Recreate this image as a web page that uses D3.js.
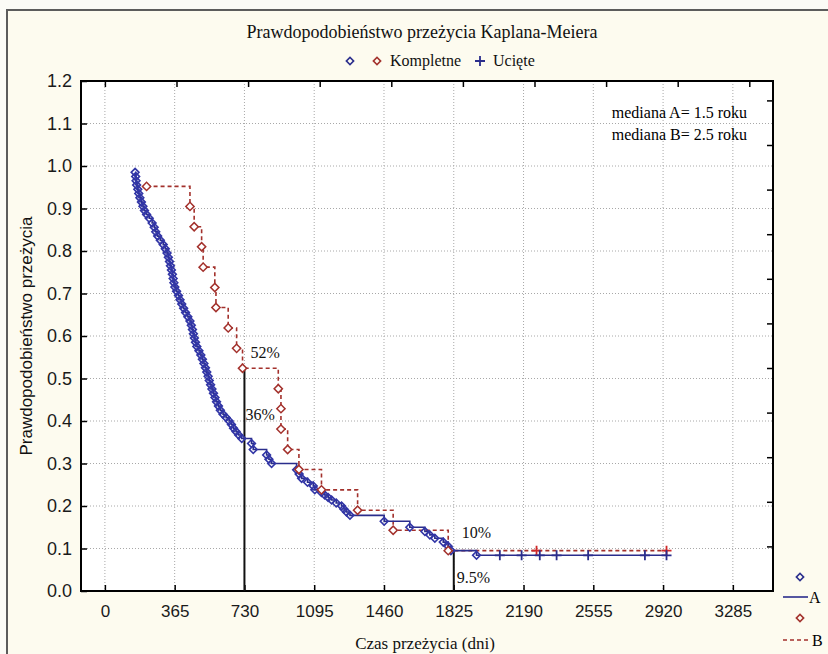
<!DOCTYPE html>
<html>
<head>
<meta charset="utf-8">
<script src="https://cdn.jsdelivr.net/npm/d3@7"></script>
<style>
  body { margin: 0; background: #fbfbf6; }
  svg { display: block; }
</style>
</head>
<body>
<div id="chart"></div>
<script>
// data
const xTicks = [0, 365, 730, 1095, 1460, 1825, 2190, 2555, 2920, 3285];
const yTicks = [0, 0.1, 0.2, 0.3, 0.4, 0.5, 0.6, 0.7, 0.8, 0.9, 1.0, 1.1, 1.2];

// curve A: complete observations (time in days, survival)
const timeA = [158, 161, 163, 166, 172, 177, 183, 191, 199, 207, 218, 232, 247, 258, 266, 276, 290, 305, 316, 325,
  332, 338, 343, 348, 353, 357, 361, 366, 375, 385, 393, 402, 412, 422, 434, 445, 452, 458, 463, 468,
  474, 481, 492, 502, 510, 518, 526, 533, 540, 546, 553, 560, 568, 576, 584, 594, 604, 618, 634, 650,
  662, 673, 686, 700, 716, 767, 776, 846, 858, 872, 1003, 1016, 1029, 1060, 1090, 1098, 1133, 1150, 1168, 1186,
  1210, 1238, 1250, 1264, 1282, 1461, 1595, 1674, 1700, 1726, 1770, 1796, 1810, 1944];
const survA = [0.985, 0.975, 0.965, 0.955, 0.945, 0.935, 0.925, 0.915, 0.905, 0.895, 0.886, 0.877, 0.866, 0.856, 0.845, 0.835, 0.825, 0.815, 0.805, 0.795,
  0.785, 0.775, 0.765, 0.755, 0.745, 0.735, 0.725, 0.715, 0.705, 0.695, 0.685, 0.675, 0.665, 0.655, 0.645, 0.635, 0.625, 0.615, 0.605, 0.595,
  0.585, 0.575, 0.565, 0.555, 0.545, 0.535, 0.525, 0.515, 0.505, 0.495, 0.485, 0.475, 0.465, 0.455, 0.445, 0.435, 0.425, 0.416, 0.408, 0.400,
  0.392, 0.383, 0.375, 0.367, 0.359, 0.347, 0.333, 0.320, 0.310, 0.300, 0.285, 0.275, 0.265, 0.256, 0.247, 0.238, 0.232, 0.226, 0.220, 0.214,
  0.207, 0.200, 0.193, 0.186, 0.178, 0.164, 0.150, 0.140, 0.132, 0.124, 0.115, 0.105, 0.095, 0.084];
// curve A: censored (ucięte)
const censA = [2066, 2180, 2275, 2363, 2528, 2825, 2938];

// curve B
const timeB = [218, 445, 467, 506, 514, 575, 581, 645, 689, 720, 907, 921, 921, 956, 1015, 1133, 1322, 1508, 1796];
const survB = [0.952, 0.905, 0.857, 0.810, 0.762, 0.714, 0.667, 0.619, 0.571, 0.524, 0.476, 0.429, 0.381, 0.333, 0.286, 0.238, 0.190, 0.143, 0.095];
const censB = [2258, 2938];

// median markers and their labels
const medianTimes = [730, 1825];
const medianSurv = [0.524, 0.095];
const pctLabels = ["52%", "36%", "10%", "9.5%"];
const pctTimes = [730, 730, 1825, 1825];
const pctSurv = [0.524, 0.36, 0.095, 0];

const W = 828, H = 654;
const box = { left: 81, right: 773, top: 81, bottom: 591 };

const svg = d3.select("#chart").append("svg")
  .attr("width", W).attr("height", H);

// outer frame (cut by the picture on the right and at the bottom)
svg.append("rect").attr("x", 0).attr("y", 0).attr("width", W).attr("height", H).attr("fill", "#fbfbf6");
svg.append("rect").attr("x", 7).attr("y", 10).attr("width", W + 20).attr("height", H + 20)
  .attr("fill", "#fdfbef").attr("stroke", "#5c5c5c").attr("stroke-width", 2);

const x = d3.scaleLinear().domain([-125, 3495]).range([box.left, box.right]);
const y = d3.scaleLinear().domain([0, 1.2]).range([box.bottom, box.top]);

// plot area
svg.append("rect")
  .attr("x", box.left).attr("y", box.top)
  .attr("width", box.right - box.left).attr("height", box.bottom - box.top)
  .attr("fill", "#fff");

// dotted grid
svg.append("g").selectAll("line").data(xTicks).enter().append("line")
  .attr("x1", d => x(d)).attr("x2", d => x(d))
  .attr("y1", box.top).attr("y2", box.bottom)
  .attr("stroke", "#a8a8a8").attr("stroke-dasharray", "1,2");
svg.append("g").selectAll("line").data(yTicks.slice(1, -1)).enter().append("line")
  .attr("x1", box.left).attr("x2", box.right)
  .attr("y1", d => y(d)).attr("y2", d => y(d))
  .attr("stroke", "#a8a8a8").attr("stroke-dasharray", "1,2");

// axes
const xAxis = svg.append("g")
  .attr("transform", `translate(0,${box.bottom})`)
  .call(d3.axisBottom(x).tickValues(xTicks).tickFormat(d3.format("d")).tickSizeInner(-6).tickSizeOuter(0).tickPadding(14));
const yAxis = svg.append("g")
  .attr("transform", `translate(${box.left},0)`)
  .call(d3.axisLeft(y).tickValues(yTicks).tickFormat(d3.format(".1f")).tickSizeInner(-6).tickSizeOuter(0).tickPadding(9));
[xAxis, yAxis].forEach(g => {
  g.select(".domain").remove();
  g.selectAll(".tick line").attr("stroke", "#000").attr("stroke-width", 1.5);
  g.selectAll("text").attr("fill", "#1a1a1a").style("font-family", "Arial, 'Liberation Sans', sans-serif");
});
xAxis.selectAll("text").style("font-size", "17px");
yAxis.selectAll("text").style("font-size", "18px");

// top and right ticks (Statistica draws them on its own spacing)
const xTop = d3.scaleLinear().domain([0, 365]).range([x(0), x(0) + 71.6]);
const yRight = d3.scaleLinear().domain([0, 1]).range([box.bottom, box.bottom - 44.6]);
svg.append("g").attr("transform", `translate(0,${box.top})`)
  .call(d3.axisTop(xTop).tickValues(xTicks.filter(d => xTop(d) < box.right)).tickSizeInner(-6).tickSizeOuter(0).tickFormat(""))
  .call(g => g.select(".domain").remove())
  .selectAll("line").attr("stroke", "#000").attr("stroke-width", 1.5);
svg.append("g").attr("transform", `translate(${box.right},0)`)
  .call(d3.axisRight(yRight).tickValues(d3.range(1, 12)).tickSizeInner(-6).tickSizeOuter(0).tickFormat(""))
  .call(g => g.select(".domain").remove())
  .selectAll("line").attr("stroke", "#000").attr("stroke-width", 1.5);

// frame of the plot
svg.append("rect")
  .attr("x", box.left).attr("y", box.top)
  .attr("width", box.right - box.left).attr("height", box.bottom - box.top)
  .attr("fill", "none").attr("stroke", "#000").attr("stroke-width", 2);

// median lines
svg.append("g").selectAll("line").data(medianTimes).enter().append("line")
  .attr("x1", d => x(d)).attr("x2", d => x(d))
  .attr("y1", y(0)).attr("y2", (d, i) => y(medianSurv[i]))
  .attr("stroke", "#111").attr("stroke-width", 2);

// curves
const blue = "#2a2d8c", red = "#a3312c";
const ptsA = timeA.map((t, i) => [t, survA[i]]);
const ptsB = timeB.map((t, i) => [t, survB[i]]);
const step = d3.line().x(d => x(d[0])).y(d => y(d[1])).curve(d3.curveStepAfter);

svg.append("path")
  .datum(ptsB.concat([[d3.max(censB), survB[survB.length - 1]]]))
  .attr("d", step).attr("fill", "none")
  .attr("stroke", red).attr("stroke-width", 1.6).attr("stroke-dasharray", "4,3");
svg.append("path")
  .datum(ptsA.concat([[d3.max(censA), survA[survA.length - 1]]]))
  .attr("d", step).attr("fill", "none")
  .attr("stroke", blue).attr("stroke-width", 1.6);

// diamonds for complete observations
const diamond = s => d3.symbol(d3.symbolSquare, s);
svg.append("g").selectAll("path").data(ptsA).enter().append("path")
  .attr("d", diamond(30))
  .attr("transform", d => `translate(${x(d[0])},${y(d[1])}) rotate(45)`)
  .attr("fill", "none").attr("stroke", "#3236a6").attr("stroke-width", 1.6);
svg.append("g").selectAll("path").data(ptsB).enter().append("path")
  .attr("d", diamond(34))
  .attr("transform", d => `translate(${x(d[0])},${y(d[1])}) rotate(45)`)
  .attr("fill", "#fff").attr("stroke", red).attr("stroke-width", 1.5);

// crosses for censored
function cross(g, times, s, color) {
  g.selectAll("path").data(times).enter().append("path")
    .attr("d", "M-5,0H5M0,-5V5")
    .attr("transform", d => `translate(${x(d)},${y(s)})`)
    .attr("stroke", color).attr("stroke-width", 1.8);
}
cross(svg.append("g"), censB, survB[survB.length - 1], "#d02828");
cross(svg.append("g"), censA, survA[survA.length - 1], blue);

// percent labels
const serif = "'Times New Roman', 'Liberation Serif', serif";
const pctDx = [6, 1, 8, 3], pctDy = [-10, -18, -13, -8];
svg.append("g").selectAll("text").data(pctLabels).enter().append("text")
  .attr("x", (d, i) => x(pctTimes[i]) + pctDx[i])
  .attr("y", (d, i) => y(pctSurv[i]) + pctDy[i])
  .style("font-family", serif).style("font-size", "16px").attr("fill", "#111")
  .text(d => d);

// medians note
svg.append("text").attr("x", 747).attr("y", 118).attr("text-anchor", "end")
  .style("font-family", serif).style("font-size", "16px").text("mediana A= 1.5 roku");
svg.append("text").attr("x", 747).attr("y", 140).attr("text-anchor", "end")
  .style("font-family", serif).style("font-size", "16px").text("mediana B= 2.5 roku");

// title and legend
svg.append("text").attr("x", 422).attr("y", 38).attr("text-anchor", "middle")
  .style("font-family", serif).style("font-size", "18px").attr("fill", "#111")
  .text("Prawdopodobieństwo przeżycia Kaplana-Meiera");
svg.append("path").attr("d", diamond(26)).attr("transform", "translate(350,61) rotate(45)")
  .attr("fill", "none").attr("stroke", blue).attr("stroke-width", 1.6);
svg.append("path").attr("d", diamond(26)).attr("transform", "translate(377,61) rotate(45)")
  .attr("fill", "none").attr("stroke", red).attr("stroke-width", 1.6);
svg.append("text").attr("x", 390).attr("y", 66)
  .style("font-family", serif).style("font-size", "16px").attr("fill", "#111").text("Kompletne");
svg.append("path").attr("d", "M-5,0H5M0,-5V5").attr("transform", "translate(480,61)")
  .attr("stroke", blue).attr("stroke-width", 1.8);
svg.append("text").attr("x", 493).attr("y", 66)
  .style("font-family", serif).style("font-size", "16px").attr("fill", "#111").text("Ucięte");

// axis titles
svg.append("text").attr("x", 425).attr("y", 649).attr("text-anchor", "middle")
  .style("font-family", serif).style("font-size", "17px").attr("fill", "#111")
  .text("Czas przeżycia (dni)");
svg.append("text").attr("transform", "translate(32,336) rotate(-90)").attr("text-anchor", "middle")
  .style("font-family", "Arial, 'Liberation Sans', sans-serif").style("font-size", "17px").attr("fill", "#111")
  .text("Prawdopodobieństwo przeżycia");

// side legend A / B
svg.append("path").attr("d", diamond(26)).attr("transform", "translate(800,577) rotate(45)")
  .attr("fill", "none").attr("stroke", blue).attr("stroke-width", 1.6);
svg.append("line").attr("x1", 783).attr("x2", 808).attr("y1", 597).attr("y2", 597)
  .attr("stroke", blue).attr("stroke-width", 1.6);
svg.append("text").attr("x", 809).attr("y", 603).style("font-family", serif).style("font-size", "16px").text("A");
svg.append("path").attr("d", diamond(26)).attr("transform", "translate(800,618) rotate(45)")
  .attr("fill", "none").attr("stroke", red).attr("stroke-width", 1.6);
svg.append("line").attr("x1", 783).attr("x2", 810).attr("y1", 640).attr("y2", 640)
  .attr("stroke", red).attr("stroke-width", 1.6).attr("stroke-dasharray", "4,3");
svg.append("text").attr("x", 812).attr("y", 646).style("font-family", serif).style("font-size", "16px").text("B");
</script>
</body>
</html>
